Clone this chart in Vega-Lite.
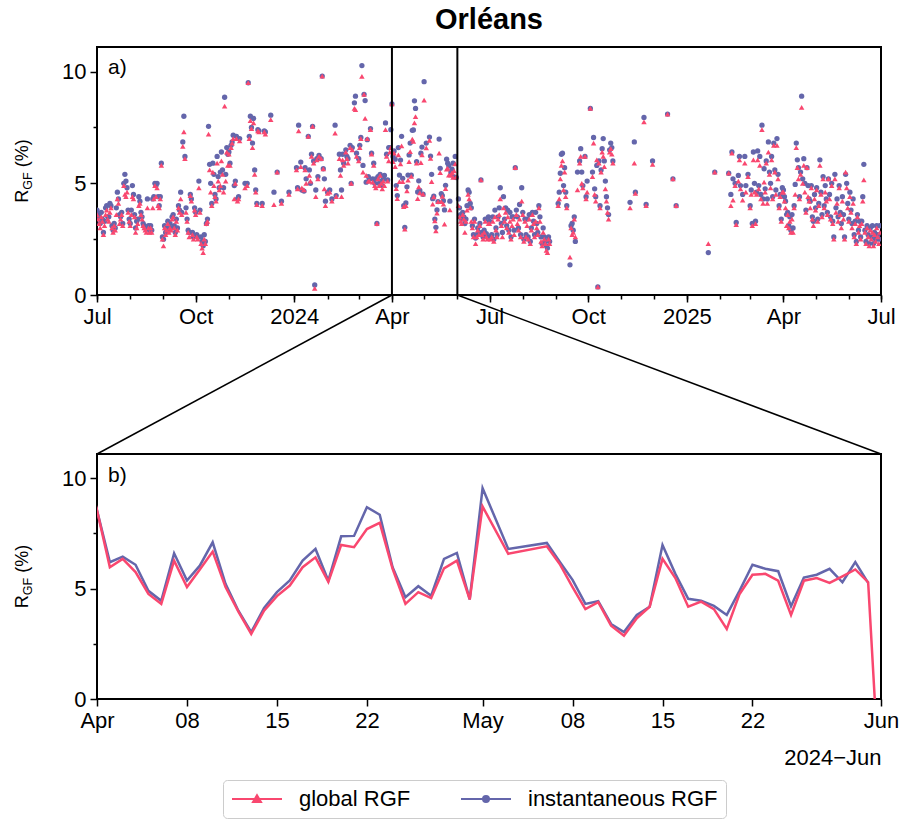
{
"$schema": "https://vega.github.io/schema/vega-lite/v6.json",
"padding": {"left": 13, "top": 6, "right": 5, "bottom": 5},
"title": {"text": "Orléans", "fontSize": 29, "fontWeight": "bold", "anchor": "middle", "frame": "group", "offset": 10, "color": "black"},
"datasets": {"rgf": [
{"date":"2023-07-01","global":3.6,"inst":3.8},{"date":"2023-07-02","global":3.4,"inst":3.6},{"date":"2023-07-03","global":3.2,"inst":3.5},{"date":"2023-07-04","global":3.0,"inst":3.2},{"date":"2023-07-05","global":3.5,"inst":3.7},{"date":"2023-07-06","global":3.3,"inst":3.4},{"date":"2023-07-07","global":2.7,"inst":2.8},{"date":"2023-07-08","global":3.1,"inst":3.3},{"date":"2023-07-09","global":3.6,"inst":3.9},{"date":"2023-07-10","global":3.8,"inst":4.0},{"date":"2023-07-11","global":3.4,"inst":3.5},{"date":"2023-07-12","global":3.3,"inst":3.5},{"date":"2023-07-13","global":3.7,"inst":4.1},{"date":"2023-07-14","global":3.9,"inst":4.0},{"date":"2023-07-15","global":3.0,"inst":3.1},{"date":"2023-07-16","global":2.8,"inst":2.9},{"date":"2023-07-17","global":3.1,"inst":3.2},{"date":"2023-07-18","global":2.9,"inst":3.0},{"date":"2023-07-19","global":3.6,"inst":3.9},{"date":"2023-07-20","global":4.3,"inst":4.6},{"date":"2023-07-21","global":4.1,"inst":4.3},{"date":"2023-07-22","global":3.2,"inst":3.6},{"date":"2023-07-23","global":3.4,"inst":3.5},{"date":"2023-07-24","global":3.6,"inst":3.7},{"date":"2023-07-25","global":3.1,"inst":3.2},{"date":"2023-07-26","global":4.9,"inst":5.0},{"date":"2023-07-27","global":4.5,"inst":5.4},{"date":"2023-07-28","global":4.4,"inst":5.1},{"date":"2023-07-29","global":4.6,"inst":4.8},{"date":"2023-07-30","global":3.7,"inst":3.8},{"date":"2023-07-31","global":3.3,"inst":3.4},
{"date":"2023-08-01","global":3.1,"inst":3.2},{"date":"2023-08-02","global":3.6,"inst":3.8},{"date":"2023-08-03","global":4.4,"inst":4.9},{"date":"2023-08-04","global":4.3,"inst":4.5},{"date":"2023-08-05","global":3.5,"inst":3.6},{"date":"2023-08-06","global":2.8,"inst":3.0},{"date":"2023-08-07","global":3.0,"inst":3.3},{"date":"2023-08-08","global":3.2,"inst":3.4},{"date":"2023-08-09","global":4.0,"inst":4.4},{"date":"2023-08-10","global":4.1,"inst":4.2},{"date":"2023-08-11","global":3.6,"inst":3.7},{"date":"2023-08-12","global":3.4,"inst":3.5},{"date":"2023-08-13","global":3.1,"inst":3.2},{"date":"2023-08-14","global":3.0,"inst":3.1},{"date":"2023-08-15","global":2.9,"inst":3.0},{"date":"2023-08-16","global":2.8,"inst":3.0},{"date":"2023-08-17","global":3.9,"inst":4.3},{"date":"2023-08-18","global":3.0,"inst":3.1},{"date":"2023-08-19","global":2.8,"inst":2.9},{"date":"2023-08-20","global":3.0,"inst":3.1},{"date":"2023-08-21","global":2.8,"inst":2.9},{"date":"2023-08-22","global":3.9,"inst":4.3},{"date":"2023-08-23","global":4.3,"inst":4.4},{"date":"2023-08-24","global":4.9,"inst":5.0},{"date":"2023-08-25","global":4.4,"inst":4.9},{"date":"2023-08-26","global":4.8,"inst":5.0},{"date":"2023-08-27","global":4.0,"inst":4.4},{"date":"2023-08-28","global":3.9,"inst":4.0},{"date":"2023-08-29","global":4.3,"inst":4.4},{"date":"2023-08-30","global":5.8,"inst":5.9},{"date":"2023-08-31","global":2.5,"inst":2.6},
{"date":"2023-09-01","global":2.2,"inst":2.5},{"date":"2023-09-02","global":3.0,"inst":3.1},{"date":"2023-09-03","global":2.7,"inst":2.8},{"date":"2023-09-04","global":2.9,"inst":3.0},{"date":"2023-09-05","global":3.2,"inst":3.3},{"date":"2023-09-06","global":2.8,"inst":2.9},{"date":"2023-09-07","global":3.0,"inst":3.2},{"date":"2023-09-08","global":2.9,"inst":3.0},{"date":"2023-09-09","global":3.4,"inst":3.5},{"date":"2023-09-10","global":3.5,"inst":3.6},{"date":"2023-09-11","global":3.0,"inst":3.1},{"date":"2023-09-12","global":2.7,"inst":2.8},{"date":"2023-09-13","global":3.3,"inst":3.4},{"date":"2023-09-14","global":2.9,"inst":3.0},{"date":"2023-09-15","global":3.9,"inst":4.0},{"date":"2023-09-16","global":3.7,"inst":3.8},{"date":"2023-09-17","global":4.3,"inst":4.6},{"date":"2023-09-18","global":3.6,"inst":3.7},{"date":"2023-09-19","global":6.65,"inst":6.85},{"date":"2023-09-20","global":7.3,"inst":8.0},{"date":"2023-09-21","global":6.1,"inst":6.2},{"date":"2023-09-22","global":3.7,"inst":3.9},{"date":"2023-09-23","global":3.3,"inst":3.4},{"date":"2023-09-24","global":2.8,"inst":2.9},{"date":"2023-09-25","global":2.6,"inst":2.8},{"date":"2023-09-26","global":4.45,"inst":4.5},{"date":"2023-09-27","global":4.2,"inst":4.3},{"date":"2023-09-28","global":2.7,"inst":2.8},{"date":"2023-09-29","global":2.5,"inst":2.6},{"date":"2023-09-30","global":3.8,"inst":3.9},
{"date":"2023-10-01","global":3.6,"inst":3.7},{"date":"2023-10-02","global":2.6,"inst":2.7},{"date":"2023-10-03","global":2.5,"inst":2.6},{"date":"2023-10-04","global":4.8,"inst":5.1},{"date":"2023-10-05","global":3.7,"inst":3.8},{"date":"2023-10-06","global":2.3,"inst":2.6},{"date":"2023-10-07","global":2.1,"inst":2.4},{"date":"2023-10-08","global":1.9,"inst":2.2},{"date":"2023-10-09","global":2.5,"inst":2.7},{"date":"2023-10-10","global":2.3,"inst":2.4},{"date":"2023-10-11","global":3.2,"inst":3.2},{"date":"2023-10-12","global":3.3,"inst":3.4},{"date":"2023-10-13","global":7.2,"inst":7.55},{"date":"2023-10-14","global":5.6,"inst":5.85},{"date":"2023-10-15","global":4.6,"inst":5.0},{"date":"2023-10-16","global":4.0,"inst":4.1},{"date":"2023-10-17","global":5.5,"inst":5.9},{"date":"2023-10-18","global":4.9,"inst":5.4},{"date":"2023-10-19","global":4.4,"inst":4.5},{"date":"2023-10-20","global":4.2,"inst":4.3},{"date":"2023-10-21","global":5.9,"inst":6.2},{"date":"2023-10-22","global":5.1,"inst":5.3},{"date":"2023-10-23","global":4.7,"inst":4.8},{"date":"2023-10-24","global":4.9,"inst":5.5},{"date":"2023-10-25","global":6.0,"inst":6.4},{"date":"2023-10-26","global":5.4,"inst":5.6},{"date":"2023-10-27","global":4.6,"inst":4.8},{"date":"2023-10-28","global":8.45,"inst":8.85},{"date":"2023-10-29","global":5.1,"inst":5.4},{"date":"2023-10-30","global":6.4,"inst":6.6},{"date":"2023-10-31","global":5.8,"inst":6.3},
{"date":"2023-11-01","global":6.3,"inst":6.4},{"date":"2023-11-02","global":5.8,"inst":5.9},{"date":"2023-11-03","global":6.6,"inst":6.7},{"date":"2023-11-04","global":6.8,"inst":6.85},{"date":"2023-11-05","global":7.0,"inst":7.15},{"date":"2023-11-06","global":4.3,"inst":4.9},{"date":"2023-11-07","global":5.0,"inst":5.1},{"date":"2023-11-08","global":7.0,"inst":7.1},{"date":"2023-11-09","global":4.2,"inst":4.3},{"date":"2023-11-10","global":4.3,"inst":4.4},{"date":"2023-11-11","global":6.9,"inst":7.0},{"date":"2023-11-16","global":4.8,"inst":5.0},{"date":"2023-11-18","global":4.9,"inst":5.0},{"date":"2023-11-19","global":9.5,"inst":9.5},{"date":"2023-11-20","global":7.0,"inst":7.1},{"date":"2023-11-21","global":7.8,"inst":8.0},{"date":"2023-11-22","global":7.45,"inst":7.5},{"date":"2023-11-23","global":6.6,"inst":6.8},{"date":"2023-11-24","global":7.7,"inst":7.9},{"date":"2023-11-25","global":5.4,"inst":5.6},{"date":"2023-11-26","global":4.6,"inst":4.7},{"date":"2023-11-27","global":4.05,"inst":4.1},{"date":"2023-11-28","global":7.35,"inst":7.4},{"date":"2023-11-29","global":7.3,"inst":7.35},
{"date":"2023-12-02","global":4.0,"inst":4.1},{"date":"2023-12-04","global":7.3,"inst":7.35},{"date":"2023-12-05","global":7.2,"inst":7.3},{"date":"2023-12-10","global":7.85,"inst":8.05},{"date":"2023-12-13","global":4.05,"inst":4.6},{"date":"2023-12-16","global":5.5,"inst":5.5},{"date":"2023-12-20","global":4.1,"inst":4.2},{"date":"2023-12-27","global":4.5,"inst":4.6},
{"date":"2024-01-03","global":5.6,"inst":5.7},{"date":"2024-01-04","global":4.75,"inst":4.8},{"date":"2024-01-05","global":7.35,"inst":7.6},{"date":"2024-01-07","global":5.75,"inst":5.95},{"date":"2024-01-08","global":4.8,"inst":4.7},{"date":"2024-01-10","global":4.7,"inst":4.65},{"date":"2024-01-11","global":5.6,"inst":5.7},{"date":"2024-01-12","global":5.0,"inst":5.2},{"date":"2024-01-14","global":7.1,"inst":7.1},{"date":"2024-01-15","global":5.35,"inst":5.6},{"date":"2024-01-16","global":5.1,"inst":5.0},{"date":"2024-01-17","global":6.2,"inst":6.3},{"date":"2024-01-18","global":7.55,"inst":7.55},{"date":"2024-01-19","global":5.9,"inst":6.0},{"date":"2024-01-20","global":0.3,"inst":0.45},{"date":"2024-01-21","global":4.4,"inst":4.7},{"date":"2024-01-22","global":6.05,"inst":6.1},{"date":"2024-01-23","global":5.2,"inst":5.3},{"date":"2024-01-24","global":6.2,"inst":6.25},{"date":"2024-01-26","global":6.1,"inst":6.1},{"date":"2024-01-27","global":9.8,"inst":9.8},{"date":"2024-01-28","global":5.65,"inst":5.65},{"date":"2024-01-29","global":4.75,"inst":5.2},{"date":"2024-01-30","global":4.0,"inst":4.2},
{"date":"2024-02-01","global":4.55,"inst":4.6},{"date":"2024-02-03","global":4.6,"inst":4.7},{"date":"2024-02-05","global":4.2,"inst":4.3},{"date":"2024-02-08","global":7.25,"inst":7.6},{"date":"2024-02-09","global":4.4,"inst":4.45},{"date":"2024-02-12","global":6.1,"inst":6.3},{"date":"2024-02-13","global":5.35,"inst":5.6},{"date":"2024-02-14","global":4.4,"inst":4.7},{"date":"2024-02-15","global":6.05,"inst":6.3},{"date":"2024-02-16","global":5.8,"inst":5.9},{"date":"2024-02-18","global":6.4,"inst":6.5},{"date":"2024-02-19","global":6.1,"inst":6.2},{"date":"2024-02-20","global":5.9,"inst":6.1},{"date":"2024-02-22","global":6.6,"inst":6.7},{"date":"2024-02-23","global":5.0,"inst":5.0},{"date":"2024-02-24","global":6.5,"inst":6.6},{"date":"2024-02-26","global":8.35,"inst":8.6},{"date":"2024-02-27","global":8.3,"inst":8.9},{"date":"2024-02-28","global":6.2,"inst":6.35},
{"date":"2024-03-01","global":6.0,"inst":6.1},{"date":"2024-03-02","global":6.6,"inst":6.7},{"date":"2024-03-03","global":7.0,"inst":7.05},{"date":"2024-03-04","global":9.78,"inst":10.27},{"date":"2024-03-05","global":5.5,"inst":5.8},{"date":"2024-03-06","global":8.98,"inst":8.98},{"date":"2024-03-07","global":7.9,"inst":8.7},{"date":"2024-03-08","global":5.35,"inst":5.05},{"date":"2024-03-09","global":7.0,"inst":6.95},{"date":"2024-03-10","global":5.1,"inst":5.3},{"date":"2024-03-11","global":5.1,"inst":5.2},{"date":"2024-03-12","global":7.4,"inst":7.45},{"date":"2024-03-13","global":6.3,"inst":6.35},{"date":"2024-03-14","global":5.05,"inst":5.2},{"date":"2024-03-15","global":5.8,"inst":5.9},{"date":"2024-03-16","global":4.9,"inst":5.0},{"date":"2024-03-17","global":4.8,"inst":5.2},{"date":"2024-03-18","global":3.2,"inst":3.2},{"date":"2024-03-19","global":5.2,"inst":5.3},{"date":"2024-03-20","global":4.9,"inst":5.0},{"date":"2024-03-21","global":5.35,"inst":5.4},{"date":"2024-03-22","global":5.0,"inst":5.1},{"date":"2024-03-23","global":4.75,"inst":4.9},{"date":"2024-03-24","global":5.1,"inst":5.2},{"date":"2024-03-25","global":4.9,"inst":5.35},{"date":"2024-03-26","global":7.4,"inst":7.7},{"date":"2024-03-27","global":6.2,"inst":6.3},{"date":"2024-03-28","global":5.1,"inst":5.15},{"date":"2024-03-29","global":6.0,"inst":6.6},{"date":"2024-03-30","global":6.4,"inst":6.6},{"date":"2024-03-31","global":6.6,"inst":7.4},
{"date":"2024-04-01","global":8.55,"inst":8.55},{"date":"2024-04-02","global":5.97,"inst":6.2},{"date":"2024-04-03","global":6.35,"inst":6.45},{"date":"2024-04-04","global":5.75,"inst":6.08},{"date":"2024-04-05","global":4.76,"inst":4.9},{"date":"2024-04-06","global":4.31,"inst":4.45},{"date":"2024-04-07","global":6.27,"inst":6.6},{"date":"2024-04-08","global":5.07,"inst":5.37},{"date":"2024-04-09","global":5.87,"inst":6.04},{"date":"2024-04-10","global":6.68,"inst":7.1},{"date":"2024-04-11","global":5.07,"inst":5.22},{"date":"2024-04-12","global":3.96,"inst":4.0},{"date":"2024-04-13","global":2.95,"inst":3.03},{"date":"2024-04-14","global":4.0,"inst":4.12},{"date":"2024-04-15","global":4.66,"inst":4.84},{"date":"2024-04-16","global":5.14,"inst":5.37},{"date":"2024-04-17","global":5.97,"inst":6.27},{"date":"2024-04-18","global":6.42,"inst":6.8},{"date":"2024-04-19","global":5.31,"inst":5.36},{"date":"2024-04-20","global":6.98,"inst":7.37},{"date":"2024-04-21","global":6.88,"inst":7.39},{"date":"2024-04-22","global":7.7,"inst":8.69},{"date":"2024-04-23","global":7.98,"inst":8.35},{"date":"2024-04-24","global":5.9,"inst":5.97},{"date":"2024-04-25","global":4.31,"inst":4.61},{"date":"2024-04-26","global":4.84,"inst":5.11},{"date":"2024-04-27","global":4.57,"inst":4.68},{"date":"2024-04-28","global":5.92,"inst":6.35},{"date":"2024-04-29","global":6.27,"inst":6.62},{"date":"2024-04-30","global":4.51,"inst":4.51},
{"date":"2024-05-01","global":8.72,"inst":9.55},{"date":"2024-05-03","global":6.58,"inst":6.8},{"date":"2024-05-06","global":6.92,"inst":7.07},{"date":"2024-05-07","global":6.12,"inst":6.22},{"date":"2024-05-08","global":5.07,"inst":5.4},{"date":"2024-05-09","global":4.07,"inst":4.31},{"date":"2024-05-10","global":4.39,"inst":4.43},{"date":"2024-05-11","global":3.32,"inst":3.4},{"date":"2024-05-12","global":2.87,"inst":3.03},{"date":"2024-05-13","global":3.66,"inst":3.81},{"date":"2024-05-14","global":4.18,"inst":4.18},{"date":"2024-05-15","global":6.35,"inst":6.98},{"date":"2024-05-16","global":5.48,"inst":5.67},{"date":"2024-05-17","global":4.18,"inst":4.54},{"date":"2024-05-18","global":4.41,"inst":4.45},{"date":"2024-05-19","global":4.07,"inst":4.22},{"date":"2024-05-20","global":3.17,"inst":3.81},{"date":"2024-05-21","global":4.76,"inst":4.91},{"date":"2024-05-22","global":5.63,"inst":6.08},{"date":"2024-05-23","global":5.67,"inst":5.9},{"date":"2024-05-24","global":5.36,"inst":5.79},{"date":"2024-05-25","global":3.81,"inst":4.2},{"date":"2024-05-26","global":5.36,"inst":5.5},{"date":"2024-05-27","global":5.48,"inst":5.63},{"date":"2024-05-28","global":5.26,"inst":5.9},{"date":"2024-05-29","global":5.56,"inst":5.29},{"date":"2024-05-30","global":5.87,"inst":6.2},{"date":"2024-05-31","global":5.29,"inst":5.26},{"date":"2024-06-01","global":-5.0,"inst":null},
{"date":"2024-06-02","global":4.0,"inst":4.3},{"date":"2024-06-03","global":3.5,"inst":3.9},{"date":"2024-06-04","global":3.3,"inst":3.6},{"date":"2024-06-05","global":3.2,"inst":3.4},{"date":"2024-06-06","global":3.6,"inst":3.7},{"date":"2024-06-07","global":3.4,"inst":3.5},{"date":"2024-06-08","global":2.8,"inst":3.2},{"date":"2024-06-09","global":3.3,"inst":3.4},{"date":"2024-06-10","global":3.8,"inst":4.0},{"date":"2024-06-11","global":4.5,"inst":4.7},{"date":"2024-06-12","global":4.3,"inst":4.6},{"date":"2024-06-13","global":3.9,"inst":4.1},{"date":"2024-06-14","global":3.3,"inst":3.9},{"date":"2024-06-15","global":3.0,"inst":3.1},{"date":"2024-06-16","global":2.6,"inst":2.7},{"date":"2024-06-17","global":3.3,"inst":3.4},{"date":"2024-06-18","global":2.3,"inst":2.55},{"date":"2024-06-19","global":2.6,"inst":2.7},{"date":"2024-06-20","global":2.9,"inst":3.0},{"date":"2024-06-21","global":2.7,"inst":2.8},{"date":"2024-06-22","global":3.1,"inst":3.2},{"date":"2024-06-23","global":5.15,"inst":5.15},{"date":"2024-06-24","global":2.7,"inst":2.8},{"date":"2024-06-25","global":2.5,"inst":2.6},{"date":"2024-06-26","global":2.8,"inst":2.9},{"date":"2024-06-27","global":3.3,"inst":3.4},{"date":"2024-06-28","global":2.6,"inst":2.75},{"date":"2024-06-29","global":2.5,"inst":2.6},{"date":"2024-06-30","global":3.2,"inst":3.5},
{"date":"2024-07-01","global":3.2,"inst":3.3},{"date":"2024-07-02","global":2.5,"inst":2.6},{"date":"2024-07-03","global":2.6,"inst":2.7},{"date":"2024-07-04","global":3.3,"inst":3.5},{"date":"2024-07-05","global":2.4,"inst":2.5},{"date":"2024-07-06","global":3.5,"inst":3.8},{"date":"2024-07-07","global":2.9,"inst":3.0},{"date":"2024-07-08","global":2.6,"inst":2.7},{"date":"2024-07-09","global":3.4,"inst":3.5},{"date":"2024-07-10","global":3.6,"inst":3.9},{"date":"2024-07-11","global":4.3,"inst":4.8},{"date":"2024-07-12","global":3.1,"inst":3.2},{"date":"2024-07-13","global":2.6,"inst":2.8},{"date":"2024-07-14","global":3.9,"inst":4.4},{"date":"2024-07-15","global":3.3,"inst":3.4},{"date":"2024-07-16","global":3.7,"inst":3.9},{"date":"2024-07-17","global":3.0,"inst":3.1},{"date":"2024-07-18","global":3.5,"inst":3.8},{"date":"2024-07-19","global":2.8,"inst":2.9},{"date":"2024-07-20","global":3.3,"inst":3.7},{"date":"2024-07-21","global":2.5,"inst":2.6},{"date":"2024-07-22","global":3.1,"inst":3.5},{"date":"2024-07-23","global":3.4,"inst":3.5},{"date":"2024-07-24","global":2.7,"inst":2.9},{"date":"2024-07-25","global":5.7,"inst":5.7},{"date":"2024-07-26","global":3.6,"inst":3.8},{"date":"2024-07-27","global":3.2,"inst":3.5},{"date":"2024-07-28","global":2.9,"inst":3.0},{"date":"2024-07-29","global":3.4,"inst":4.05},{"date":"2024-07-30","global":2.6,"inst":2.7},{"date":"2024-07-31","global":4.2,"inst":4.8},
{"date":"2024-08-01","global":3.6,"inst":3.7},{"date":"2024-08-02","global":2.4,"inst":2.5},{"date":"2024-08-03","global":3.3,"inst":3.4},{"date":"2024-08-04","global":2.6,"inst":2.7},{"date":"2024-08-05","global":3.1,"inst":3.4},{"date":"2024-08-06","global":2.5,"inst":2.6},{"date":"2024-08-07","global":3.4,"inst":3.6},{"date":"2024-08-08","global":2.3,"inst":2.4},{"date":"2024-08-09","global":2.9,"inst":3.0},{"date":"2024-08-10","global":3.6,"inst":3.7},{"date":"2024-08-11","global":3.2,"inst":3.3},{"date":"2024-08-12","global":2.6,"inst":2.7},{"date":"2024-08-13","global":3.3,"inst":3.7},{"date":"2024-08-14","global":3.0,"inst":3.2},{"date":"2024-08-15","global":2.7,"inst":2.8},{"date":"2024-08-16","global":3.9,"inst":4.0},{"date":"2024-08-17","global":3.3,"inst":3.5},{"date":"2024-08-18","global":2.4,"inst":2.6},{"date":"2024-08-19","global":2.2,"inst":2.3},{"date":"2024-08-20","global":2.8,"inst":3.0},{"date":"2024-08-21","global":2.5,"inst":2.6},{"date":"2024-08-22","global":2.3,"inst":2.4},{"date":"2024-08-23","global":2.0,"inst":2.2},{"date":"2024-08-24","global":1.9,"inst":2.1},{"date":"2024-08-25","global":2.5,"inst":2.6},{"date":"2024-08-26","global":2.3,"inst":2.4},
{"date":"2024-09-03","global":4.0,"inst":4.1},{"date":"2024-09-04","global":4.3,"inst":4.6},{"date":"2024-09-05","global":5.2,"inst":5.45},{"date":"2024-09-06","global":5.8,"inst":6.3},{"date":"2024-09-07","global":6.0,"inst":6.35},{"date":"2024-09-08","global":4.7,"inst":4.9},{"date":"2024-09-09","global":5.5,"inst":5.7},{"date":"2024-09-10","global":4.4,"inst":4.6},{"date":"2024-09-11","global":3.9,"inst":4.0},{"date":"2024-09-14","global":1.7,"inst":1.35},{"date":"2024-09-15","global":3.0,"inst":3.1},{"date":"2024-09-16","global":2.7,"inst":3.2},{"date":"2024-09-17","global":2.8,"inst":2.9},{"date":"2024-09-18","global":3.4,"inst":3.5},{"date":"2024-09-19","global":2.6,"inst":2.4},{"date":"2024-09-21","global":4.7,"inst":5.5},{"date":"2024-09-23","global":5.9,"inst":6.0},{"date":"2024-09-24","global":6.2,"inst":6.55},{"date":"2024-09-25","global":5.0,"inst":5.5},{"date":"2024-09-26","global":4.8,"inst":4.9},{"date":"2024-09-28","global":6.2,"inst":6.2},{"date":"2024-09-29","global":4.3,"inst":4.4},{"date":"2024-09-30","global":4.6,"inst":5.1},
{"date":"2024-10-03","global":8.35,"inst":8.35},{"date":"2024-10-05","global":5.3,"inst":5.5},{"date":"2024-10-06","global":6.8,"inst":7.05},{"date":"2024-10-07","global":4.5,"inst":4.75},{"date":"2024-10-08","global":4.2,"inst":4.4},{"date":"2024-10-09","global":6.05,"inst":5.8},{"date":"2024-10-10","global":0.36,"inst":0.36},{"date":"2024-10-11","global":5.9,"inst":6.0},{"date":"2024-10-12","global":3.9,"inst":4.0},{"date":"2024-10-13","global":5.5,"inst":5.6},{"date":"2024-10-14","global":6.4,"inst":6.55},{"date":"2024-10-15","global":6.2,"inst":7.0},{"date":"2024-10-16","global":5.75,"inst":6.0},{"date":"2024-10-17","global":4.75,"inst":5.1},{"date":"2024-10-18","global":4.2,"inst":4.4},{"date":"2024-10-19","global":3.7,"inst":3.9},{"date":"2024-10-20","global":3.4,"inst":3.6},{"date":"2024-10-21","global":6.4,"inst":6.5},{"date":"2024-10-22","global":6.55,"inst":6.8},{"date":"2024-10-23","global":6.3,"inst":6.6},{"date":"2024-10-24","global":5.9,"inst":6.0},
{"date":"2024-11-09","global":3.9,"inst":4.15},{"date":"2024-11-13","global":5.9,"inst":6.85},{"date":"2024-11-14","global":4.55,"inst":4.6},{"date":"2024-11-22","global":7.75,"inst":7.95},{"date":"2024-11-24","global":4.0,"inst":4.05},{"date":"2024-11-30","global":5.85,"inst":6.0},
{"date":"2024-12-14","global":8.1,"inst":8.1},{"date":"2024-12-19","global":5.2,"inst":5.2},{"date":"2024-12-22","global":4.0,"inst":4.0},
{"date":"2025-01-21","global":2.3,"inst":1.9},{"date":"2025-01-27","global":5.5,"inst":5.5},
{"date":"2025-02-09","global":5.45,"inst":5.45},{"date":"2025-02-11","global":4.0,"inst":4.5},{"date":"2025-02-12","global":6.35,"inst":6.4},{"date":"2025-02-13","global":4.25,"inst":5.2},{"date":"2025-02-15","global":4.9,"inst":5.0},{"date":"2025-02-16","global":3.15,"inst":3.25},{"date":"2025-02-18","global":5.1,"inst":5.35},{"date":"2025-02-19","global":6.05,"inst":6.2},{"date":"2025-02-20","global":4.75,"inst":4.9},{"date":"2025-02-22","global":4.25,"inst":4.5},{"date":"2025-02-24","global":5.9,"inst":6.2},{"date":"2025-02-25","global":4.6,"inst":4.9},{"date":"2025-02-27","global":5.3,"inst":5.4},
{"date":"2025-03-01","global":3.9,"inst":4.0},{"date":"2025-03-02","global":4.5,"inst":4.7},{"date":"2025-03-03","global":3.1,"inst":3.2},{"date":"2025-03-04","global":6.05,"inst":6.4},{"date":"2025-03-05","global":4.6,"inst":5.0},{"date":"2025-03-06","global":3.2,"inst":3.3},{"date":"2025-03-07","global":4.5,"inst":4.6},{"date":"2025-03-08","global":6.05,"inst":6.45},{"date":"2025-03-09","global":4.75,"inst":4.9},{"date":"2025-03-10","global":5.8,"inst":6.2},{"date":"2025-03-11","global":4.3,"inst":4.5},{"date":"2025-03-12","global":7.4,"inst":7.6},{"date":"2025-03-13","global":4.1,"inst":4.3},{"date":"2025-03-14","global":5.05,"inst":5.65},{"date":"2025-03-15","global":4.6,"inst":4.75},{"date":"2025-03-16","global":5.9,"inst":6.0},{"date":"2025-03-17","global":4.1,"inst":4.3},{"date":"2025-03-18","global":6.4,"inst":6.85},{"date":"2025-03-19","global":5.4,"inst":5.5},{"date":"2025-03-20","global":4.8,"inst":5.0},{"date":"2025-03-21","global":6.05,"inst":6.2},{"date":"2025-03-22","global":4.3,"inst":4.4},{"date":"2025-03-23","global":6.7,"inst":6.8},{"date":"2025-03-24","global":5.5,"inst":5.6},{"date":"2025-03-25","global":4.5,"inst":4.7},{"date":"2025-03-26","global":6.7,"inst":7.0},{"date":"2025-03-27","global":5.2,"inst":5.4},{"date":"2025-03-28","global":3.9,"inst":4.0},{"date":"2025-03-29","global":4.4,"inst":4.5},{"date":"2025-03-30","global":3.3,"inst":3.4},{"date":"2025-03-31","global":4.6,"inst":4.8},
{"date":"2025-04-01","global":4.6,"inst":4.7},{"date":"2025-04-02","global":4.2,"inst":4.4},{"date":"2025-04-03","global":3.9,"inst":4.2},{"date":"2025-04-04","global":3.1,"inst":3.6},{"date":"2025-04-05","global":3.6,"inst":3.7},{"date":"2025-04-06","global":3.0,"inst":3.1},{"date":"2025-04-07","global":3.3,"inst":3.5},{"date":"2025-04-08","global":2.8,"inst":2.9},{"date":"2025-04-09","global":3.4,"inst":3.6},{"date":"2025-04-10","global":2.8,"inst":3.0},{"date":"2025-04-11","global":3.9,"inst":4.0},{"date":"2025-04-12","global":4.5,"inst":4.95},{"date":"2025-04-13","global":6.6,"inst":6.8},{"date":"2025-04-14","global":5.7,"inst":6.05},{"date":"2025-04-15","global":5.2,"inst":5.7},{"date":"2025-04-16","global":4.3,"inst":4.4},{"date":"2025-04-17","global":5.4,"inst":5.5},{"date":"2025-04-18","global":8.4,"inst":8.9},{"date":"2025-04-19","global":5.0,"inst":5.2},{"date":"2025-04-20","global":5.8,"inst":6.1},{"date":"2025-04-21","global":4.6,"inst":5.0},{"date":"2025-04-22","global":3.7,"inst":3.8},{"date":"2025-04-23","global":5.7,"inst":5.7},{"date":"2025-04-24","global":4.4,"inst":4.9},{"date":"2025-04-25","global":4.2,"inst":4.3},{"date":"2025-04-26","global":3.9,"inst":4.2},{"date":"2025-04-27","global":4.8,"inst":4.9},{"date":"2025-04-28","global":3.4,"inst":3.5},{"date":"2025-04-29","global":3.1,"inst":3.3},{"date":"2025-04-30","global":4.3,"inst":4.5},
{"date":"2025-05-01","global":3.8,"inst":3.9},{"date":"2025-05-02","global":4.7,"inst":4.8},{"date":"2025-05-03","global":3.3,"inst":3.4},{"date":"2025-05-04","global":4.0,"inst":4.1},{"date":"2025-05-05","global":5.8,"inst":6.05},{"date":"2025-05-06","global":4.5,"inst":4.6},{"date":"2025-05-07","global":3.5,"inst":3.6},{"date":"2025-05-08","global":5.2,"inst":5.3},{"date":"2025-05-09","global":3.9,"inst":4.0},{"date":"2025-05-10","global":4.6,"inst":4.9},{"date":"2025-05-11","global":4.2,"inst":4.3},{"date":"2025-05-12","global":3.6,"inst":3.7},{"date":"2025-05-13","global":5.2,"inst":5.2},{"date":"2025-05-14","global":4.3,"inst":4.5},{"date":"2025-05-15","global":3.4,"inst":3.5},{"date":"2025-05-16","global":4.9,"inst":5.0},{"date":"2025-05-17","global":3.2,"inst":3.3},{"date":"2025-05-18","global":2.5,"inst":2.6},{"date":"2025-05-19","global":5.2,"inst":5.4},{"date":"2025-05-20","global":3.7,"inst":3.9},{"date":"2025-05-21","global":4.1,"inst":4.3},{"date":"2025-05-22","global":3.3,"inst":3.5},{"date":"2025-05-23","global":4.8,"inst":4.9},{"date":"2025-05-24","global":3.6,"inst":3.7},{"date":"2025-05-25","global":3.0,"inst":3.2},{"date":"2025-05-26","global":4.2,"inst":4.4},{"date":"2025-05-27","global":3.4,"inst":3.6},{"date":"2025-05-28","global":2.5,"inst":2.6},{"date":"2025-05-29","global":5.5,"inst":5.4},{"date":"2025-05-30","global":4.8,"inst":5.0},{"date":"2025-05-31","global":3.9,"inst":4.1},
{"date":"2025-06-01","global":3.3,"inst":3.4},{"date":"2025-06-02","global":4.4,"inst":4.6},{"date":"2025-06-03","global":3.7,"inst":3.8},{"date":"2025-06-04","global":3.0,"inst":3.2},{"date":"2025-06-05","global":4.1,"inst":4.3},{"date":"2025-06-06","global":2.6,"inst":2.7},{"date":"2025-06-07","global":3.2,"inst":3.3},{"date":"2025-06-08","global":2.3,"inst":2.4},{"date":"2025-06-09","global":3.5,"inst":3.6},{"date":"2025-06-10","global":2.8,"inst":2.9},{"date":"2025-06-11","global":3.1,"inst":3.3},{"date":"2025-06-12","global":2.5,"inst":2.6},{"date":"2025-06-13","global":3.2,"inst":3.3},{"date":"2025-06-14","global":4.2,"inst":4.4},{"date":"2025-06-15","global":5.15,"inst":5.85},{"date":"2025-06-16","global":2.8,"inst":2.9},{"date":"2025-06-17","global":2.3,"inst":2.4},{"date":"2025-06-18","global":3.0,"inst":3.1},{"date":"2025-06-19","global":2.6,"inst":2.7},{"date":"2025-06-20","global":2.2,"inst":2.3},{"date":"2025-06-21","global":2.9,"inst":3.0},{"date":"2025-06-22","global":2.5,"inst":2.6},{"date":"2025-06-23","global":2.8,"inst":3.1},{"date":"2025-06-24","global":2.2,"inst":2.3},{"date":"2025-06-25","global":2.7,"inst":2.8},{"date":"2025-06-26","global":2.4,"inst":2.5},{"date":"2025-06-27","global":3.0,"inst":3.1},{"date":"2025-06-28","global":2.6,"inst":2.7},{"date":"2025-06-29","global":2.3,"inst":2.5},{"date":"2025-06-30","global":2.8,"inst":3.1}
]},
"spacing": 159,
"bounds": "flush",
"vconcat": [
{
 "width": 784, "height": 248,
 "title": {"text": "a)", "anchor": "start", "frame": "group", "offset": -32, "dx": 11, "fontSize": 21, "fontWeight": "normal", "color": "black"},
 "resolve": {"axis": {"x": "independent", "y": "independent"}},
 "layer": [
  {
   "data": {"name": "rgf"},
   "mark": {"type": "point", "shape": "circle", "filled": true, "opacity": 1, "size": 28, "color": "#6466ab", "clip": true},
   "encoding": {
    "x": {"field": "date", "type": "temporal", "scale": {"type": "utc", "domain": [{"year": 2023, "month": 7, "date": 1, "utc": true}, {"year": 2025, "month": 7, "date": 1, "utc": true}]},
      "axis": {"orient": "bottom", "title": null, "labelFlush": false, "labelOverlap": false,
        "values": [{"year": 2023, "month": 7, "date": 1, "utc": true}, {"year": 2023, "month": 10, "date": 1, "utc": true}, {"year": 2024, "month": 1, "date": 1, "utc": true}, {"year": 2024, "month": 4, "date": 1, "utc": true}, {"year": 2024, "month": 7, "date": 1, "utc": true}, {"year": 2024, "month": 10, "date": 1, "utc": true}, {"year": 2025, "month": 1, "date": 1, "utc": true}, {"year": 2025, "month": 4, "date": 1, "utc": true}, {"year": 2025, "month": 7, "date": 1, "utc": true}],
        "labelExpr": "utcmonth(datum.value) === 0 ? utcFormat(datum.value, '%Y') : utcFormat(datum.value, '%b')"}},
    "y": {"field": "inst", "type": "quantitative", "scale": {"domain": [0, 11.1], "nice": false, "zero": false}, "axis": {"orient": "left", "values": [0, 5, 10], "title": null, "labelFlush": false}}
   }
  },
  {
   "data": {"name": "rgf"},
   "mark": {"type": "point", "shape": "triangle-up", "filled": true, "opacity": 1, "size": 30, "color": "#f9476f", "clip": true},
   "encoding": {
    "x": {"field": "date", "type": "temporal", "scale": {"type": "utc"}, "axis": {"orient": "bottom", "title": null, "labels": false, "tickSize": 4, "tickCount": {"interval": "month", "step": 1}}},
    "y": {"field": "global", "type": "quantitative", "axis": {"orient": "left", "values": [2.5, 7.5], "labels": false, "tickSize": 4, "title": null}}
   }
  },
  {
   "data": {"values": [{"date": "2024-04-01"}, {"date": "2024-06-01"}]},
   "mark": {"type": "rule", "color": "black", "strokeWidth": 2},
   "encoding": {"x": {"field": "date", "type": "temporal", "scale": {"type": "utc"}, "axis": null}}
  },
  {
   "data": {"values": [{"date": "2024-04-01", "v": 0, "date2": "2023-07-01", "v2": -7.117}, {"date": "2024-06-01", "v": 0, "date2": "2025-07-01", "v2": -7.117}]},
   "mark": {"type": "rule", "color": "black", "strokeWidth": 1.5, "clip": false},
   "encoding": {"x": {"field": "date", "type": "temporal", "scale": {"type": "utc"}, "axis": null}, "x2": {"field": "date2"}, "y": {"field": "v", "type": "quantitative", "axis": null}, "y2": {"field": "v2"}}
  },
  {
   "data": {"values": [{}]},
   "mark": {"type": "text", "text": "R", "angle": 270, "align": "left", "baseline": "alphabetic", "dx": -31.75, "dy": -69, "fontSize": 18, "color": "black"},
   "encoding": {"x": {"datum": {"year": 2023, "month": 7, "date": 1, "utc": true}, "type": "temporal", "scale": {"type": "utc"}, "axis": null}, "y": {"datum": 5.55, "type": "quantitative", "axis": null}}
  },
  {
   "data": {"values": [{}]},
   "mark": {"type": "text", "text": "GF", "angle": 270, "align": "left", "baseline": "alphabetic", "dx": -18.75, "dy": -65, "fontSize": 12.6, "color": "black"},
   "encoding": {"x": {"datum": {"year": 2023, "month": 7, "date": 1, "utc": true}, "type": "temporal", "scale": {"type": "utc"}, "axis": null}, "y": {"datum": 5.55, "type": "quantitative", "axis": null}}
  },
  {
   "data": {"values": [{}]},
   "mark": {"type": "text", "text": "(%)", "angle": 270, "align": "left", "baseline": "alphabetic", "dx": 3.75, "dy": -69, "fontSize": 18, "color": "black"},
   "encoding": {"x": {"datum": {"year": 2023, "month": 7, "date": 1, "utc": true}, "type": "temporal", "scale": {"type": "utc"}, "axis": null}, "y": {"datum": 5.55, "type": "quantitative", "axis": null}}
  }
 ]
},
{
 "width": 784, "height": 245,
 "title": {"text": "b)", "anchor": "start", "frame": "group", "offset": -32, "dx": 11, "fontSize": 21, "fontWeight": "normal", "color": "black"},
 "resolve": {"axis": {"x": "independent", "y": "independent"}},
 "layer": [
  {
   "data": {"name": "rgf"},
   "transform": [{"filter": "time(datum.date) >= utc(2024, 2, 31) && time(datum.date) <= utc(2024, 5, 1) && isValid(datum.inst)"}],
   "mark": {"type": "line", "color": "#6466ab", "strokeWidth": 2.5, "clip": true},
   "encoding": {
    "x": {"field": "date", "type": "temporal", "scale": {"type": "utc", "domain": [{"year": 2024, "month": 4, "date": 1, "utc": true}, {"year": 2024, "month": 6, "date": 1, "utc": true}]},
      "axis": {"orient": "bottom", "labelFlush": false, "labelOverlap": false,
        "values": [{"year": 2024, "month": 4, "date": 1, "utc": true}, {"year": 2024, "month": 4, "date": 8, "utc": true}, {"year": 2024, "month": 4, "date": 15, "utc": true}, {"year": 2024, "month": 4, "date": 22, "utc": true}, {"year": 2024, "month": 5, "date": 1, "utc": true}, {"year": 2024, "month": 5, "date": 8, "utc": true}, {"year": 2024, "month": 5, "date": 15, "utc": true}, {"year": 2024, "month": 5, "date": 22, "utc": true}, {"year": 2024, "month": 6, "date": 1, "utc": true}],
        "labelExpr": "utcdate(datum.value) === 1 ? utcFormat(datum.value, '%b') : utcFormat(datum.value, '%d')",
        "title": "2024−Jun", "titleAnchor": "end", "titleAlign": "right", "titleFontSize": 22, "titleFontWeight": "normal", "titlePadding": 16}},
    "y": {"field": "inst", "type": "quantitative", "scale": {"domain": [0, 11.1], "nice": false, "zero": false}, "axis": {"orient": "left", "values": [0, 5, 10], "title": null, "labelFlush": false}}
   }
  },
  {
   "data": {"name": "rgf"},
   "transform": [{"filter": "time(datum.date) >= utc(2024, 2, 31) && time(datum.date) <= utc(2024, 5, 2)"}],
   "mark": {"type": "line", "color": "#f9476f", "strokeWidth": 2.5, "clip": true},
   "encoding": {
    "x": {"field": "date", "type": "temporal", "scale": {"type": "utc"}, "axis": null},
    "y": {"field": "global", "type": "quantitative", "axis": {"orient": "left", "values": [2.5, 7.5], "labels": false, "tickSize": 4, "title": null}}
   }
  },
  {
   "data": {"values": [{"s": "global RGF"}, {"s": "instantaneous RGF"}]},
   "transform": [{"filter": "false"}],
   "mark": {"type": "point", "filled": true, "opacity": 1},
   "encoding": {
    "fill": {"field": "s", "type": "nominal", "scale": {"domain": ["global RGF", "instantaneous RGF"], "range": ["#f9476f", "#6466ab"]},
      "legend": {"title": null, "orient": "none", "legendX": 126, "legendY": 733, "direction": "horizontal", "labelFontSize": 22, "labelLimit": 400, "symbolSize": 400, "symbolStrokeWidth": 2, "strokeColor": "#cccccc", "padding": 8, "cornerRadius": 4, "columnPadding": 46, "labelOffset": 46}},
    "stroke": {"field": "s", "type": "nominal", "scale": {"domain": ["global RGF", "instantaneous RGF"], "range": ["#f9476f", "#6466ab"]}},
    "shape": {"field": "s", "type": "nominal", "scale": {"domain": ["global RGF", "instantaneous RGF"], "range": ["M-1,0H4M1.5,-0.38L1.9,0.3L1.1,0.3Z", "M-1,0H4M1.8,0A0.3,0.3,0,1,1,1.2,0A0.3,0.3,0,1,1,1.8,0Z"]}}
   }
  },
  {
   "data": {"values": [{}]},
   "mark": {"type": "text", "text": "R", "angle": 270, "align": "left", "baseline": "alphabetic", "dx": -31.75, "dy": -69, "fontSize": 18, "color": "black"},
   "encoding": {"x": {"datum": {"year": 2024, "month": 4, "date": 1, "utc": true}, "type": "temporal", "scale": {"type": "utc"}, "axis": null}, "y": {"datum": 5.55, "type": "quantitative", "axis": null}}
  },
  {
   "data": {"values": [{}]},
   "mark": {"type": "text", "text": "GF", "angle": 270, "align": "left", "baseline": "alphabetic", "dx": -18.75, "dy": -65, "fontSize": 12.6, "color": "black"},
   "encoding": {"x": {"datum": {"year": 2024, "month": 4, "date": 1, "utc": true}, "type": "temporal", "scale": {"type": "utc"}, "axis": null}, "y": {"datum": 5.55, "type": "quantitative", "axis": null}}
  },
  {
   "data": {"values": [{}]},
   "mark": {"type": "text", "text": "(%)", "angle": 270, "align": "left", "baseline": "alphabetic", "dx": 3.75, "dy": -69, "fontSize": 18, "color": "black"},
   "encoding": {"x": {"datum": {"year": 2024, "month": 4, "date": 1, "utc": true}, "type": "temporal", "scale": {"type": "utc"}, "axis": null}, "y": {"datum": 5.55, "type": "quantitative", "axis": null}}
  }
 ]
}
],
"config": {
 "font": "Liberation Sans",
 "view": {"stroke": "black", "strokeWidth": 2},
 "axis": {"domain": false, "grid": false, "tickColor": "black", "tickWidth": 1.5, "tickSize": 7, "labelColor": "black", "labelFontSize": 22, "labelPadding": 4, "titleColor": "black"},
 "legend": {"labelColor": "black"}
}
}
